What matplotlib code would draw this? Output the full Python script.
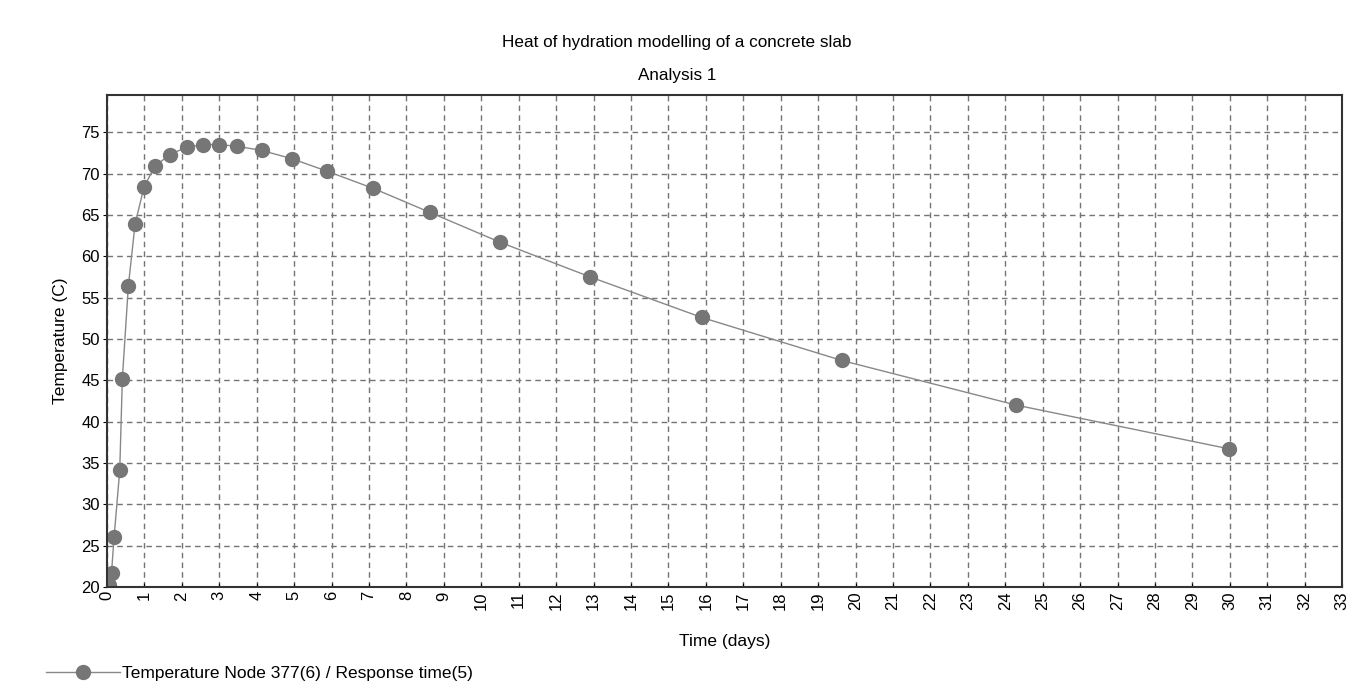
import matplotlib
matplotlib.use('Agg')
import matplotlib.pyplot as plt

# time (days) and temperature (C)
time_days = [0.04, 0.12, 0.19, 0.34, 0.41, 0.57, 0.75, 0.99, 1.28, 1.68, 2.13, 2.56,
             2.98, 3.48, 4.13, 4.94, 5.87, 7.12, 8.63, 10.50, 12.91, 15.89, 19.63,
             24.29, 29.99]
temperature = [20.2, 21.7, 26.1, 34.1, 45.2, 56.4, 63.9, 68.4, 70.9, 72.3, 73.2, 73.5,
               73.5, 73.3, 72.8, 71.8, 70.3, 68.2, 65.3, 61.7, 57.5, 52.6, 47.4,
               42.0, 36.7]
x_ticks = list(range(0, 34))
y_ticks = list(range(20, 80, 5))
series_name = 'Temperature Node 377(6) / Response time(5)'

plt.rcParams['font.family'] = ['Liberation Sans', 'DejaVu Sans']

fig = plt.figure(figsize=(13.65, 6.91), dpi=100)
ax = fig.add_axes([0.0784, 0.1505, 0.9048, 0.712])

ax.plot(time_days, temperature, color='#888888', linewidth=1.0,
        marker='o', markersize=10, markerfacecolor='#767676',
        markeredgecolor='#767676', label=series_name)

ax.set_xlim(0, 33)
ax.set_ylim(20, 79.5)
ax.set_xticks(x_ticks)
ax.set_yticks(y_ticks)
ax.set_xticklabels([str(t) for t in x_ticks], rotation=90, fontsize=12)
ax.tick_params(axis='y', labelsize=12, length=3, pad=2)
ax.tick_params(axis='x', length=3, direction='in', pad=3)
ax.grid(True, linestyle=(0, (4, 3)), color='#747474', linewidth=1.0)
ax.set_axisbelow(True)
for s in ax.spines.values():
    s.set_color('#333333')
    s.set_linewidth(1.5)

ax.set_xlabel('Time (days)', fontsize=12.5, labelpad=17)
ax.set_ylabel('Temperature (C)', fontsize=12.5, labelpad=10)

fig.text(0.496, 0.938, 'Heat of hydration modelling of a concrete slab',
         ha='center', va='center', fontsize=12.3)
fig.text(0.496, 0.891, 'Analysis 1', ha='center', va='center', fontsize=12.3)

fig.legend(loc='lower left', bbox_to_anchor=(0.022, -0.008), frameon=False,
           fontsize=12.5, handlelength=4.3, handletextpad=0.1)

plt.savefig('out.png', dpi=100, facecolor='white')
